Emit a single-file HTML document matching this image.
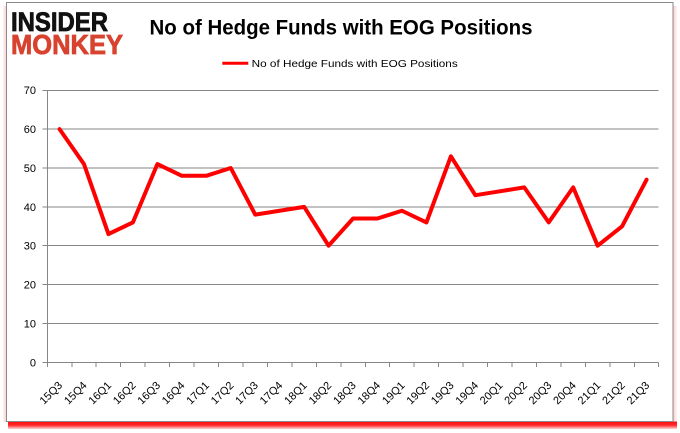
<!DOCTYPE html>
<html>
<head>
<meta charset="utf-8">
<style>
  html, body { margin: 0; padding: 0; background: #ffffff; }
  svg { display: block; }
  text { font-family: "Liberation Sans", Arial, sans-serif; }
</style>
</head>
<body>
<svg width="680" height="433" viewBox="0 0 680 433" xmlns="http://www.w3.org/2000/svg">
  <defs>
    <linearGradient id="shB" x1="0" y1="0" x2="0" y2="1">
      <stop offset="0" stop-color="#ff1010"/>
      <stop offset="0.5" stop-color="#ff2a2a"/>
      <stop offset="1" stop-color="#ffd6d6"/>
    </linearGradient>
    <linearGradient id="shL" x1="1" y1="0" x2="0" y2="0">
      <stop offset="0" stop-color="#ffc8c8"/>
      <stop offset="1" stop-color="#fff4f4"/>
    </linearGradient>
    <linearGradient id="shR" x1="0" y1="0" x2="1" y2="0">
      <stop offset="0" stop-color="#ffc8c8"/>
      <stop offset="1" stop-color="#fff4f4"/>
    </linearGradient>
  </defs>

  <!-- shadows -->
  <rect x="3" y="6" width="4" height="416" fill="url(#shL)"/>
  <rect x="673" y="6" width="4" height="416" fill="url(#shR)"/>
  <rect x="8" y="421.5" width="669" height="7.5" fill="url(#shB)"/>

  <!-- frame -->
  <rect x="6.5" y="2.5" width="666.5" height="419" fill="#ffffff" stroke="#8a8a8a" stroke-width="1"/>

  <!-- logo -->
  <text x="11" y="31" font-size="27" font-weight="bold" fill="#111111" stroke="#111111" stroke-width="0.8" textLength="97" lengthAdjust="spacingAndGlyphs">INSIDER</text>
  <text x="11" y="54" font-size="28" font-weight="bold" fill="#d8432f" stroke="#d8432f" stroke-width="0.8" textLength="112" lengthAdjust="spacingAndGlyphs">MONKEY</text>

  <!-- title -->
  <text x="149.5" y="34.5" font-size="21" font-weight="bold" fill="#000000" textLength="383" lengthAdjust="spacingAndGlyphs">No of Hedge Funds with EOG Positions</text>

  <!-- legend -->
  <line x1="222.3" y1="63.3" x2="248.3" y2="63.3" stroke="#ff0000" stroke-width="3"/>
  <text x="251.7" y="66.8" font-size="10.5" fill="#000000" textLength="206" lengthAdjust="spacingAndGlyphs">No of Hedge Funds with EOG Positions</text>

  <!-- gridlines -->
  <g stroke="#868686" stroke-width="1" shape-rendering="crispEdges">
    <line x1="42.5" y1="90.3" x2="658.7" y2="90.3"/>
    <line x1="42.5" y1="129.1" x2="658.7" y2="129.1"/>
    <line x1="42.5" y1="168.0" x2="658.7" y2="168.0"/>
    <line x1="42.5" y1="206.9" x2="658.7" y2="206.9"/>
    <line x1="42.5" y1="245.7" x2="658.7" y2="245.7"/>
    <line x1="42.5" y1="284.6" x2="658.7" y2="284.6"/>
    <line x1="42.5" y1="323.4" x2="658.7" y2="323.4"/>
    <line x1="42.5" y1="362.3" x2="658.7" y2="362.3"/>
    <line x1="47.3" y1="90.3" x2="47.3" y2="362.3"/>
  </g>

  <!-- x ticks -->
  <g stroke="#868686" stroke-width="1" shape-rendering="crispEdges">
    <line x1="47.30" y1="362.3" x2="47.30" y2="367"/>
    <line x1="71.76" y1="362.3" x2="71.76" y2="367"/>
    <line x1="96.22" y1="362.3" x2="96.22" y2="367"/>
    <line x1="120.68" y1="362.3" x2="120.68" y2="367"/>
    <line x1="145.14" y1="362.3" x2="145.14" y2="367"/>
    <line x1="169.60" y1="362.3" x2="169.60" y2="367"/>
    <line x1="194.06" y1="362.3" x2="194.06" y2="367"/>
    <line x1="218.52" y1="362.3" x2="218.52" y2="367"/>
    <line x1="242.98" y1="362.3" x2="242.98" y2="367"/>
    <line x1="267.44" y1="362.3" x2="267.44" y2="367"/>
    <line x1="291.90" y1="362.3" x2="291.90" y2="367"/>
    <line x1="316.36" y1="362.3" x2="316.36" y2="367"/>
    <line x1="340.82" y1="362.3" x2="340.82" y2="367"/>
    <line x1="365.28" y1="362.3" x2="365.28" y2="367"/>
    <line x1="389.74" y1="362.3" x2="389.74" y2="367"/>
    <line x1="414.20" y1="362.3" x2="414.20" y2="367"/>
    <line x1="438.66" y1="362.3" x2="438.66" y2="367"/>
    <line x1="463.12" y1="362.3" x2="463.12" y2="367"/>
    <line x1="487.58" y1="362.3" x2="487.58" y2="367"/>
    <line x1="512.04" y1="362.3" x2="512.04" y2="367"/>
    <line x1="536.50" y1="362.3" x2="536.50" y2="367"/>
    <line x1="560.96" y1="362.3" x2="560.96" y2="367"/>
    <line x1="585.42" y1="362.3" x2="585.42" y2="367"/>
    <line x1="609.88" y1="362.3" x2="609.88" y2="367"/>
    <line x1="634.34" y1="362.3" x2="634.34" y2="367"/>
    <line x1="658.70" y1="362.3" x2="658.70" y2="367"/>
  </g>

  <!-- y labels -->
  <g font-size="11" fill="#000000" text-anchor="end">
    <text x="36" y="94.2">70</text>
    <text x="36" y="133.1">60</text>
    <text x="36" y="172">50</text>
    <text x="36" y="210.9">40</text>
    <text x="36" y="249.7">30</text>
    <text x="36" y="288.6">20</text>
    <text x="36" y="327.4">10</text>
    <text x="36" y="366.3">0</text>
  </g>

  <!-- x labels -->
  <g font-size="11" fill="#000000" text-anchor="end">
    <text transform="translate(63.0,386) rotate(-45)">15Q3</text>
    <text transform="translate(87.5,386) rotate(-45)">15Q4</text>
    <text transform="translate(111.9,386) rotate(-45)">16Q1</text>
    <text transform="translate(136.4,386) rotate(-45)">16Q2</text>
    <text transform="translate(160.9,386) rotate(-45)">16Q3</text>
    <text transform="translate(185.3,386) rotate(-45)">16Q4</text>
    <text transform="translate(209.8,386) rotate(-45)">17Q1</text>
    <text transform="translate(234.3,386) rotate(-45)">17Q2</text>
    <text transform="translate(258.7,386) rotate(-45)">17Q3</text>
    <text transform="translate(283.2,386) rotate(-45)">17Q4</text>
    <text transform="translate(307.6,386) rotate(-45)">18Q1</text>
    <text transform="translate(332.1,386) rotate(-45)">18Q2</text>
    <text transform="translate(356.6,386) rotate(-45)">18Q3</text>
    <text transform="translate(381.0,386) rotate(-45)">18Q4</text>
    <text transform="translate(405.5,386) rotate(-45)">19Q1</text>
    <text transform="translate(429.9,386) rotate(-45)">19Q2</text>
    <text transform="translate(454.4,386) rotate(-45)">19Q3</text>
    <text transform="translate(478.9,386) rotate(-45)">19Q4</text>
    <text transform="translate(503.3,386) rotate(-45)">20Q1</text>
    <text transform="translate(527.8,386) rotate(-45)">20Q2</text>
    <text transform="translate(552.2,386) rotate(-45)">20Q3</text>
    <text transform="translate(576.7,386) rotate(-45)">20Q4</text>
    <text transform="translate(601.2,386) rotate(-45)">21Q1</text>
    <text transform="translate(625.6,386) rotate(-45)">21Q2</text>
    <text transform="translate(650.1,386) rotate(-45)">21Q3</text>
  </g>

  <!-- series -->
  <polyline fill="none" stroke="#ff0000" stroke-width="4" stroke-linejoin="round" stroke-linecap="round"
    points="59.53,129.14 83.99,164.10 108.45,234.06 132.91,222.40 157.37,164.10 181.83,175.80 206.29,175.80 230.75,168.00 255.21,214.60 279.67,210.75 304.13,206.86 328.59,245.70 353.05,218.50 377.51,218.50 401.97,210.75 426.43,222.40 450.89,156.30 475.35,195.20 499.81,191.30 524.27,187.40 548.73,222.40 573.19,187.40 597.65,245.70 622.11,226.30 646.57,179.70"/>
</svg>
</body>
</html>
